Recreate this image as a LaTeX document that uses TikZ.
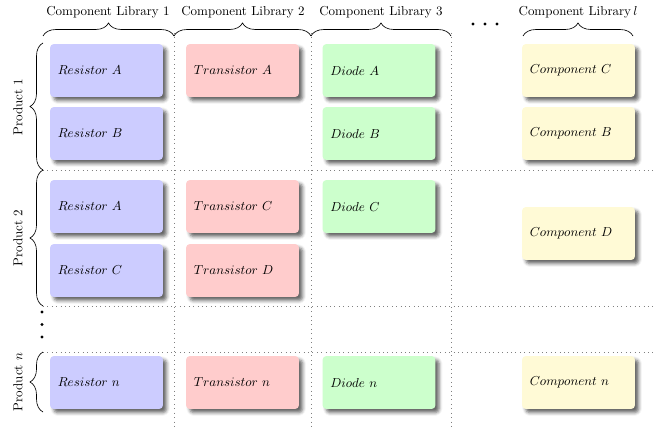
\documentclass[tikz,border=0pt]{standalone}
\usetikzlibrary{shadows,shadows.blur,decorations.pathreplacing}
\definecolor{cblue}{RGB}{204,204,255}
\definecolor{cred}{RGB}{255,204,204}
\definecolor{cgreen}{RGB}{204,255,204}
\definecolor{cyellow}{RGB}{255,250,214}
\tikzset{
  compbox/.style={rounded corners=3pt, minimum width=87pt, minimum height=40.8pt,
    text width=75pt, align=left, inner sep=6pt,
    blur shadow={shadow xshift=2.8pt, shadow yshift=-2.8pt, shadow blur radius=2.5pt, shadow opacity=60}},
  bluebox/.style={compbox, fill=cblue},
  redbox/.style={compbox, fill=cred},
  greenbox/.style={compbox, fill=cgreen},
  yellowbox/.style={compbox, fill=cyellow},
  gridline/.style={draw=gray, line width=0.4pt, dash pattern=on 0.4pt off 3pt},
  bracepath/.style={decorate, decoration={brace, amplitude=10pt}, line width=0.5pt},
  dotmark/.style={circle, fill=black, inner sep=0pt, minimum size=2.4pt}
}
\begin{document}
\begin{tikzpicture}[x=0.77pt, y=-0.77pt]
\useasboundingbox (0,0) rectangle (655,428);
% grid
\coordinate (v1t) at (174,33); \coordinate (v1b) at (174,428);
\coordinate (v2t) at (311,33); \coordinate (v2b) at (311,428);
\coordinate (v3t) at (451,33); \coordinate (v3b) at (451,428);
\coordinate (h1l) at (43,170); \coordinate (h1r) at (655,170);
\coordinate (h2l) at (43,306); \coordinate (h2r) at (655,306);
\coordinate (h3l) at (43,352); \coordinate (h3r) at (655,352);
\draw[gridline] (v1t) -- (v1b);
\draw[gridline] (v2t) -- (v2b);
\draw[gridline] (v3t) -- (v3b);
\draw[gridline] (h1l) -- (h1r);
\draw[gridline] (h2l) -- (h2r);
\draw[gridline] (h3l) -- (h3r);
% top braces
\coordinate (tb1a) at (43,36); \coordinate (tb1b) at (174,36);
\coordinate (tb2a) at (174,36); \coordinate (tb2b) at (311,36);
\coordinate (tb3a) at (311,36); \coordinate (tb3b) at (451,36);
\coordinate (tb4a) at (523,36); \coordinate (tb4b) at (633,36);
\draw[bracepath] (tb1a) -- (tb1b);
\draw[bracepath] (tb2a) -- (tb2b);
\draw[bracepath] (tb3a) -- (tb3b);
\draw[bracepath] (tb4a) -- (tb4b);
\node (lib1) at (108,12) {Component Library 1};
\node (lib2) at (243,12) {Component Library 2};
\node (lib3) at (381,12) {Component Library 3};
\node (libl) at (578,12) {Component Library\,$l$};
\node[dotmark] (hd1) at (473,24) {};
\node[dotmark] (hd2) at (485,24) {};
\node[dotmark] (hd3) at (497,24) {};
% left braces
\coordinate (lb1a) at (43,170); \coordinate (lb1b) at (43,43);
\coordinate (lb2a) at (43,306); \coordinate (lb2b) at (43,170);
\coordinate (lb3a) at (43,412); \coordinate (lb3b) at (43,352);
\draw[bracepath] (lb1a) -- (lb1b);
\draw[bracepath] (lb2a) -- (lb2b);
\draw[bracepath] (lb3a) -- (lb3b);
\node[rotate=90] (p1) at (18,107) {Product 1};
\node[rotate=90] (p2) at (18,238) {Product 2};
\node[rotate=90] (pn) at (18,382) {Product $n$};
\node[dotmark] (vd1) at (42,312) {};
\node[dotmark] (vd2) at (42,324.5) {};
\node[dotmark] (vd3) at (42,337) {};
% boxes
\node[bluebox] (r1a) at (106.5,70.5) {$Resistor\ A$};
\node[bluebox] (r1b) at (106.5,133.5) {$Resistor\ B$};
\node[bluebox] (r2a) at (106.5,206.5) {$Resistor\ A$};
\node[bluebox] (r2c) at (106.5,270.5) {$Resistor\ C$};
\node[bluebox] (rn) at (106.5,382.5) {$Resistor\ n$};
\node[redbox] (t1a) at (242.5,70.5) {$Transistor\ A$};
\node[redbox] (t2c) at (242.5,206.5) {$Transistor\ C$};
\node[redbox] (t2d) at (242.5,270.5) {$Transistor\ D$};
\node[redbox] (tn) at (242.5,382.5) {$Transistor\ n$};
\node[greenbox] (d1a) at (379,70.5) {$Diode\ A$};
\node[greenbox] (d1b) at (379,133.5) {$Diode\ B$};
\node[greenbox] (d2c) at (379,206.5) {$Diode\ C$};
\node[greenbox] (dn) at (379,382.5) {$Diode\ n$};
\node[yellowbox] (c1c) at (578.5,70.5) {$Component\ C$};
\node[yellowbox] (c1b) at (578.5,133.5) {$Component\ B$};
\node[yellowbox] (c2d) at (578.5,233.5) {$Component\ D$};
\node[yellowbox] (cn) at (578.5,382.5) {$Component\ n$};
\end{tikzpicture}
\end{document}
